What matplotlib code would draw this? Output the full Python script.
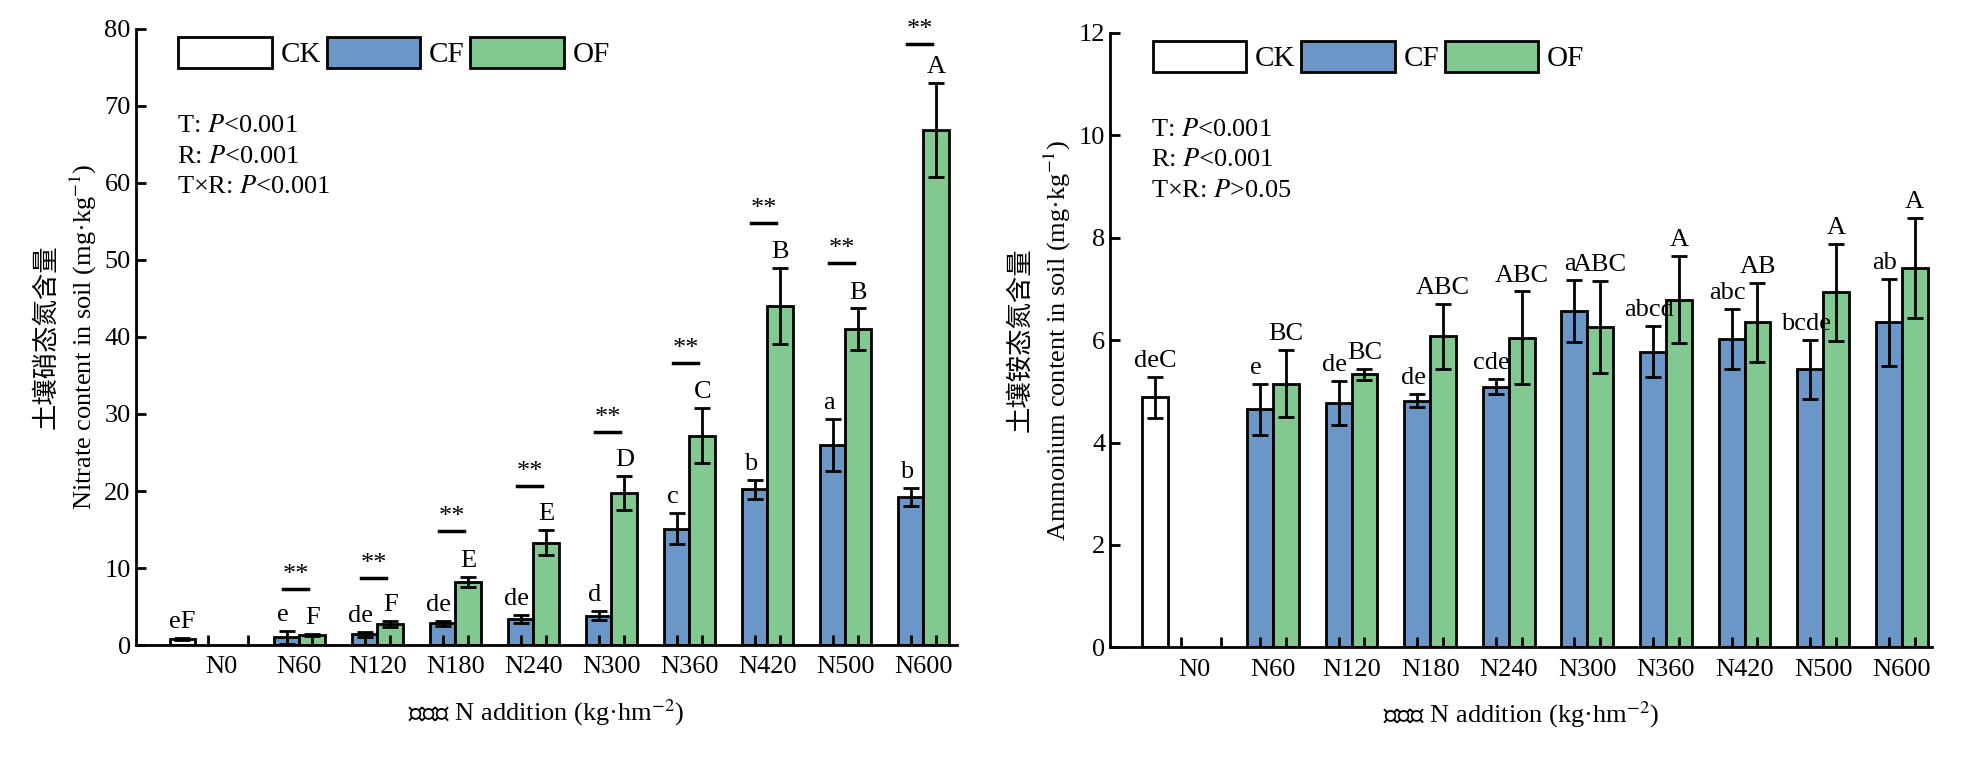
import numpy as np
import matplotlib
matplotlib.use("Agg")
import matplotlib.pyplot as plt
from matplotlib.patches import Patch

plt.rcParams['font.family'] = ['Liberation Serif', 'Noto Sans CJK SC']
plt.rcParams['mathtext.fontset'] = 'stix'

groups = ["N0", "N60", "N120", "N180", "N240", "N300", "N360", "N420", "N500", "N600"]

# 硝态氮
no3_ck, no3_ck_err = 0.8, 0.1
no3_cf = [1.0, 1.4, 2.8, 3.4, 3.8, 15.1, 20.2, 26.0, 19.2]
no3_cf_err = [0.8, 0.3, 0.3, 0.5, 0.6, 2.0, 1.2, 3.4, 1.2]
no3_of = [1.3, 2.7, 8.2, 13.3, 19.7, 27.2, 44.0, 41.0, 66.9]
no3_of_err = [0.1, 0.4, 0.6, 1.6, 2.2, 3.6, 4.9, 2.7, 6.1]
no3_cf_lab = ["e", "de", "de", "de", "d", "c", "b", "a", "b"]
no3_of_lab = ["F", "F", "E", "E", "D", "C", "B", "B", "A"]
no3_sig_y = [7.3, 8.7, 14.8, 20.6, 27.6, 36.6, 54.8, 49.6, 78.0]

# 铵态氮
nh4_ck, nh4_ck_err = 4.88, 0.4
nh4_cf = [4.65, 4.78, 4.82, 5.09, 6.57, 5.77, 6.02, 5.43, 6.35]
nh4_cf_err = [0.5, 0.43, 0.12, 0.15, 0.6, 0.5, 0.58, 0.58, 0.85]
nh4_of = [5.15, 5.33, 6.07, 6.05, 6.26, 6.79, 6.35, 6.93, 7.41]
nh4_of_err = [0.65, 0.1, 0.63, 0.9, 0.9, 0.85, 0.77, 0.95, 0.97]
nh4_cf_lab = ["e", "de", "de", "cde", "a", "abcd", "abc", "bcde", "ab"]
nh4_of_lab = ["BC", "BC", "ABC", "ABC", "ABC", "A", "AB", "A", "A"]

BLUE = "#6a96c8"
GREEN = "#82c891"
W = 0.33
FS = 19

fig = plt.figure(figsize=(19.65, 7.8), dpi=100)
ax1 = fig.add_axes([0.069, 0.173, 0.418, 0.79])
ax2 = fig.add_axes([0.565, 0.170, 0.418, 0.788])


def draw(ax, ck, ck_err, cf, cf_err, of, of_err, cf_lab, of_lab, ck_lab,
         ymax, ystep, stats, ylab, sig_y=None, xlim=(-1.1, 9.43)):
    x = np.arange(1, 10)
    kw = dict(edgecolor="black", linewidth=2, capsize=6,
              error_kw=dict(elinewidth=2, capthick=2, ecolor="black"))
    ax.bar([-0.5], [ck], W, yerr=[ck_err], color="white", **kw)
    ax.bar(x - W / 2, cf, W, yerr=cf_err, color=BLUE, **kw)
    ax.bar(x + W / 2, of, W, yerr=of_err, color=GREEN, **kw)
    off = ymax * 0.008
    ax.text(-0.5, ck + ck_err + off, ck_lab, ha="center", va="bottom", fontsize=FS)
    for i in range(9):
        ax.text(x[i] - W / 2 - 0.05, cf[i] + cf_err[i] + off, cf_lab[i],
                ha="center", va="bottom", fontsize=FS)
        ax.text(x[i] + W / 2, of[i] + of_err[i] + off, of_lab[i],
                ha="center", va="bottom", fontsize=FS)
        if sig_y is not None:
            ax.plot([x[i] - W / 2 - 0.05, x[i] + W / 2 - 0.05], [sig_y[i]] * 2,
                    color="black", lw=2.5)
            ax.text(x[i] - 0.05, sig_y[i] + ymax * 0.005, "**", ha="center",
                    va="bottom", fontsize=FS)
    ax.set_xlim(*xlim)
    ax.set_ylim(0, ymax)
    ax.set_yticks(np.arange(0, ymax + 0.01, ystep))
    ax.tick_params(axis="y", labelsize=FS, width=2, length=7, direction="in")
    ticks = [-0.17, 0.34] + [v for xi in x for v in (xi - W / 2, xi + W / 2)]
    ax.set_xticks(ticks)
    ax.set_xticklabels([])
    ax.tick_params(axis="x", width=2, length=7, direction="in")
    ax.set_xticks(np.arange(10), minor=True)
    ax.set_xticklabels(groups, minor=True, fontsize=FS)
    ax.tick_params(axis="x", which="minor", length=0, pad=8)
    for s in ["top", "right"]:
        ax.spines[s].set_visible(False)
    for s in ["left", "bottom"]:
        ax.spines[s].set_linewidth(2)
    ax.set_ylabel(ylab, fontsize=FS, linespacing=1.4)
    ax.set_xlabel("施氮量 N addition (kg·hm$^{-2}$)", fontsize=FS, labelpad=14)
    handles = [Patch(facecolor=c, edgecolor="black", linewidth=2)
               for c in ["white", BLUE, GREEN]]
    ax.legend(handles, ["CK", "CF", "OF"], ncol=3, loc="upper left",
              bbox_to_anchor=(0.02, 1.03), frameon=False, fontsize=FS + 2,
              handlelength=3.2, handleheight=1.3, handletextpad=0.3, columnspacing=0.2)
    ax.text(0.05, 0.86, stats, transform=ax.transAxes, fontsize=FS,
            va="top", linespacing=1.5)


draw(ax1, no3_ck, no3_ck_err, no3_cf, no3_cf_err, no3_of, no3_of_err,
     no3_cf_lab, no3_of_lab, "eF", 80, 10,
     "T: $\\it{P}$<0.001\nR: $\\it{P}$<0.001\nT×R: $\\it{P}$<0.001",
     "土壤硝态氮含量\nNitrate content in soil (mg·kg$^{-1}$)", sig_y=no3_sig_y)
draw(ax2, nh4_ck, nh4_ck_err, nh4_cf, nh4_cf_err, nh4_of, nh4_of_err,
     nh4_cf_lab, nh4_of_lab, "deC", 12, 2,
     "T: $\\it{P}$<0.001\nR: $\\it{P}$<0.001\nT×R: $\\it{P}$>0.05",
     "土壤铵态氮含量\nAmmonium content in soil (mg·kg$^{-1}$)", xlim=(-1.07, 9.38))

fig.savefig("out.png", dpi=100)
